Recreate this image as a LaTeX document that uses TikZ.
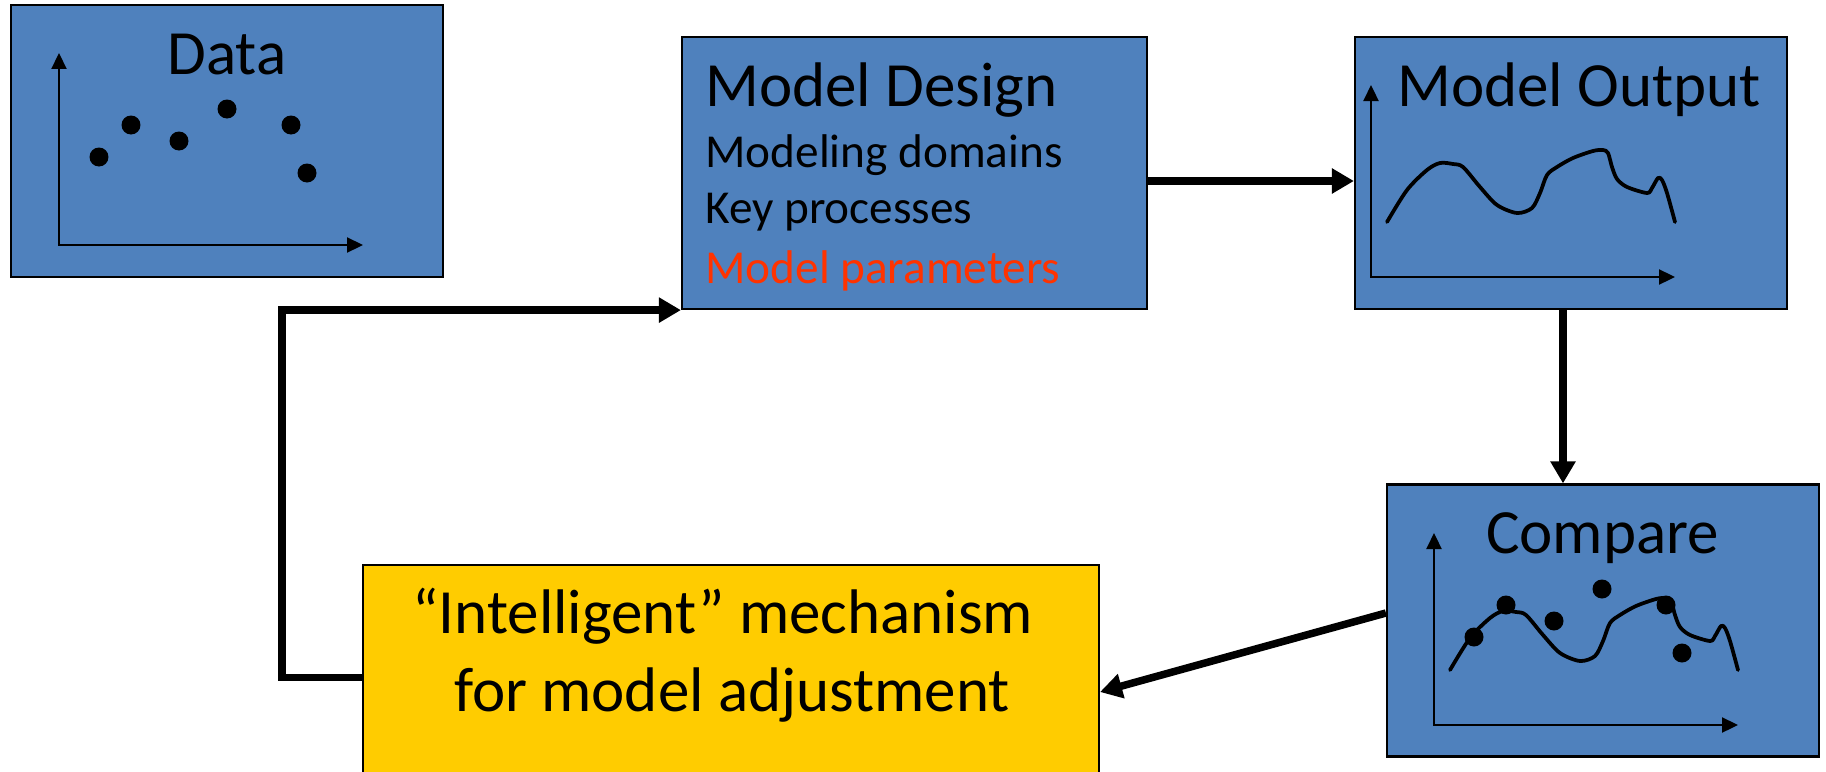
\documentclass[tikz,border=0pt]{standalone}
\usepackage{fontspec}
\setmainfont{Carlito}
\usepackage{tikz}
\usetikzlibrary{arrows.meta}
\usepackage{xcolor}

\definecolor{panelblue}{RGB}{79,129,189}
\definecolor{mechyellow}{RGB}{255,204,0}
\definecolor{paramred}{RGB}{255,51,0}

\newcommand{\bigfont}{\fontsize{35.85}{43}\selectfont}
\newcommand{\smallfont}{\fontsize{26.9}{32}\selectfont}

% small charts, drawn with their origin at (0,0)
\newcommand{\chartaxes}{\draw[axis] (0,-192) |- (304,0);}
\newcommand{\chartcurve}{%
  \draw[curve] plot[smooth, tension=0.5] coordinates {(16,-55) (36,-87) (56,-107) (69,-114) (82,-113) (92,-110) (109,-90) (126,-72) (146,-64) (161,-69) (169,-84) (176,-102) (186,-110) (202,-119) (222,-126) (232,-127) (237,-124) (241,-110) (246,-98) (256,-90) (276,-84) (281,-89) (287,-99) (291,-97) (296,-84) (304,-55)};}
\newcommand{\chartdots}{%
  \foreach \px/\py in {40/-88, 72/-120, 120/-104, 168/-136, 232/-120, 248/-72}
    \fill (\px,\py) circle (0.19cm);}

\begin{document}
\begin{tikzpicture}[x=0.02cm, y=-0.02cm,
  panel/.style={draw, line width=0.045cm, fill=panelblue, minimum width=8.64cm, minimum height=5.44cm, inner sep=0pt},
  mechbox/.style={draw, line width=0.045cm, fill=mechyellow, minimum width=14.72cm, minimum height=4.5cm, inner sep=0pt},
  title/.style={anchor=base, inner sep=0pt, font=\bigfont},
  item/.style={anchor=base west, inner sep=0pt, font=\smallfont},
  flow/.style={-{Triangle[length=0.44cm, width=0.48cm]}, line width=0.15cm},
  axis/.style={{Triangle[length=0.32cm, width=0.3cm]}-{Triangle[length=0.32cm, width=0.3cm]}, line width=0.045cm},
  curve/.style={line width=0.075cm, line join=round, line cap=round}]

\useasboundingbox (0,0) rectangle (1826,771);

% boxes
\node(data) at (227, 141) [panel] {};
\node(design) at (914.5, 173) [panel, minimum width=9.3cm] {};
\node(output) at (1571, 173) [panel] {};
\node(compare) at (1603, 620.5) [panel] {};
\node(mech) at (731, 677.5) [mechbox] {};

% texts
\node(datatitle) at (227, 74) [title] {Data};
\node(designtitle) at (705, 106) [title, anchor=base west] {Model Design};
\node(domains) at (705, 167) [item] {Modeling domains};
\node(processes) at (705, 223) [item] {Key processes};
\node(params) at (705, 283) [item, text=paramred] {Model parameters};
\node(outputtitle) at (1397, 106) [title, anchor=base west] {Model Output};
\node(comparetitle) at (1602.5, 553) [title] {Compare};
\node(mechline1) at (723, 633) [title] {“Intelligent” mechanism};
\node(mechline2) at (732, 711) [title] {for model adjustment};

% charts inside the boxes
\begin{scope}[shift={(59,245)}]
\chartaxes \chartdots
\end{scope}
\begin{scope}[shift={(1371,277)}]
\chartaxes \chartcurve
\end{scope}
\begin{scope}[shift={(1434,725)}]
\chartaxes \chartcurve \chartdots
\end{scope}

% loop
\coordinate(drop) at ([xshift=-0.16cm]output.south);
\draw[flow] ([yshift=-0.16cm]design.east) -- ([yshift=-0.16cm]output.west);
\draw[flow] (drop) -- (drop |- compare.north);
\draw[flow] ([yshift=0.15cm]compare.west) -- ([yshift=-0.29cm]mech.east);
\draw[flow] (mech.west) -- ++(-80,0) |- (design.south west);
\end{tikzpicture}
\end{document}
